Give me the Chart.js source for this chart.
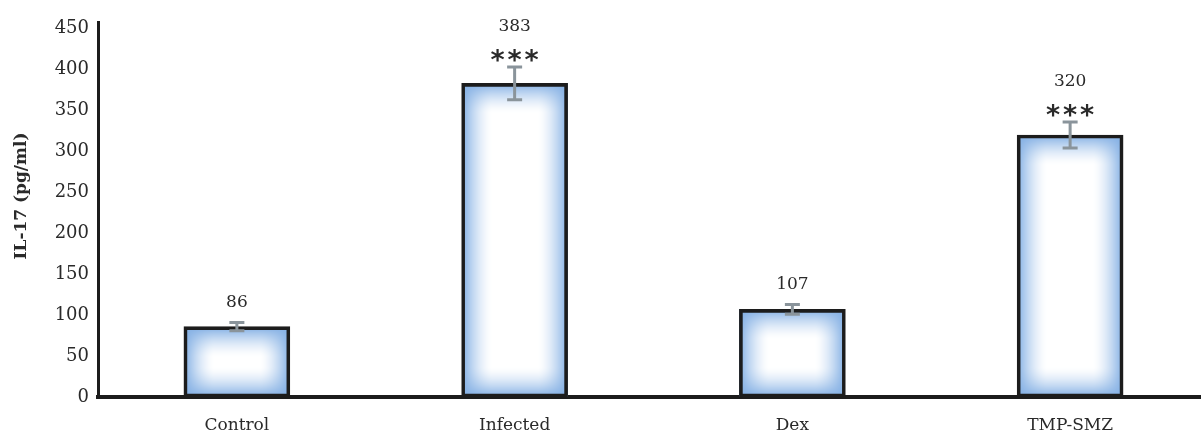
<!DOCTYPE html>
<html>
<head>
<meta charset="utf-8">
<script src="https://cdn.jsdelivr.net/npm/chart.js@4.4.1/dist/chart.umd.min.js"></script>
<style>
  html, body { margin: 0; padding: 0; overflow: hidden; background: #ffffff; }
  #wrap { position: relative; width: 1210px; height: 435px; }
</style>
</head>
<body>
<div id="wrap"><canvas id="c" width="1210" height="435"></canvas></div>
<script>
// IL-17 levels per treatment group
const categories    = ['Control', 'Infected', 'Dex', 'TMP-SMZ'];
const meanValues    = [86, 383, 107, 320];
const errorValues   = [5, 20, 6, 16];
const significance  = ['', '***', '', '***'];
const yTickValues   = [0, 50, 100, 150, 200, 250, 300, 350, 400, 450];
const yAxisTitle    = 'IL-17 (pg/ml)';

const SERIF = '"DejaVu Serif", "Liberation Serif", serif';
const TEXT  = '#2a2a2a';
const AXIS  = '#1c1c1c';
const ERR   = '#8a949b';

// Soft rectangular shading: light blue at the edges, white in the middle
function shadeBar(w, h) {
  const cv = document.createElement('canvas');
  cv.width = Math.max(1, w); cv.height = Math.max(1, h);
  const g = cv.getContext('2d');
  const img = g.createImageData(cv.width, cv.height);
  const F = 30;
  const edge = [132, 176, 228];
  for (let y = 0; y < cv.height; y++) {
    for (let x = 0; x < cv.width; x++) {
      const ds = [x, cv.width - 1 - x, y, cv.height - 1 - y];
      let keep = 1;
      for (const d of ds) {
        const e = Math.pow(Math.max(0, 1 - d / F), 1.6);
        keep *= (1 - e);
      }
      const k = 1 - keep;
      const i = (y * cv.width + x) * 4;
      img.data[i]     = Math.round(255 + (edge[0] - 255) * k);
      img.data[i + 1] = Math.round(255 + (edge[1] - 255) * k);
      img.data[i + 2] = Math.round(255 + (edge[2] - 255) * k);
      img.data[i + 3] = 255;
    }
  }
  g.putImageData(img, 0, 0);
  return cv;
}

const barShading = {
  id: 'barShading',
  beforeDatasetsDraw(chart) {
    const ctx = chart.ctx;
    chart.getDatasetMeta(0).data.forEach(bar => {
      const p = bar.getProps(['x', 'y', 'base', 'width'], true);
      const left = Math.round(p.x - p.width / 2);
      const top = Math.round(Math.min(p.y, p.base));
      const w = Math.round(p.width);
      const h = Math.round(Math.abs(p.base - p.y));
      ctx.drawImage(shadeBar(w, h), left, top);
    });
  }
};

const errorBars = {
  id: 'errorBars',
  afterDatasetsDraw(chart) {
    const ctx = chart.ctx;
    const ys = chart.scales.y;
    ctx.save();
    ctx.strokeStyle = ERR;
    ctx.lineWidth = 3;
    chart.getDatasetMeta(0).data.forEach((bar, i) => {
      const x = bar.x;
      const hi = ys.getPixelForValue(meanValues[i] + errorValues[i]);
      const lo = ys.getPixelForValue(meanValues[i] - errorValues[i]);
      ctx.beginPath();
      ctx.moveTo(x, hi); ctx.lineTo(x, lo);
      ctx.moveTo(x - 7.5, hi); ctx.lineTo(x + 7.5, hi);
      ctx.moveTo(x - 7.5, lo); ctx.lineTo(x + 7.5, lo);
      ctx.stroke();
    });
    ctx.restore();
  }
};

const valueLabels = {
  id: 'valueLabels',
  afterDatasetsDraw(chart) {
    const ctx = chart.ctx;
    const ys = chart.scales.y;
    ctx.save();
    ctx.fillStyle = TEXT;
    ctx.textAlign = 'center';
    chart.getDatasetMeta(0).data.forEach((bar, i) => {
      const x = bar.x;
      const top = ys.getPixelForValue(meanValues[i] + errorValues[i]);
      let numY = top - 20;
      if (significance[i]) {
        const starY = top - 14;
        ctx.font = 'bold 27px "DejaVu Sans", sans-serif';
        ctx.textBaseline = 'alphabetic';
        const n = significance[i].length;
        for (let k = 0; k < n; k++) {
          ctx.fillText('*', x + (k - (n - 1) / 2) * 17, starY + 16);
        }
        numY = top - 40;
      }
      ctx.font = '17px ' + SERIF;
      ctx.textBaseline = 'middle';
      ctx.fillText(String(meanValues[i]), x, numY);
    });
    ctx.restore();
  }
};

const axisTitle = {
  id: 'axisTitle',
  afterDraw(chart) {
    const ctx = chart.ctx;
    ctx.save();
    ctx.translate(22, 196);
    ctx.rotate(-Math.PI / 2);
    ctx.font = 'bold 17px ' + SERIF;
    ctx.fillStyle = TEXT;
    ctx.textAlign = 'center';
    ctx.textBaseline = 'middle';
    ctx.fillText(yAxisTitle, 0, 0);
    ctx.restore();
  }
};

new Chart(document.getElementById('c'), {
  type: 'bar',
  data: {
    labels: categories,
    datasets: [{
      data: meanValues,
      backgroundColor: 'rgba(0,0,0,0)',
      borderColor: AXIS,
      borderWidth: 3,
      borderSkipped: false,
      barThickness: 106
    }]
  },
  options: {
    responsive: false,
    animation: false,
    devicePixelRatio: 1,
    layout: { padding: { top: 22, right: 1, left: 0, bottom: 0 } },
    plugins: { legend: { display: false }, tooltip: { enabled: false } },
    scales: {
      x: {
        grid: { display: false, drawTicks: false },
        border: { display: true, color: AXIS, width: 4 },
        ticks: { color: TEXT, font: { family: SERIF, size: 17 }, padding: 18 },
        afterFit(s) { s.height = 38; }
      },
      y: {
        min: 0,
        max: 458,
        grid: { display: false, drawTicks: false },
        border: { display: true, color: AXIS, width: 3 },
        ticks: { color: TEXT, font: { family: SERIF, size: 18 }, padding: 9, includeBounds: false },
        afterBuildTicks(s) { s.ticks = yTickValues.map(v => ({ value: v })); },
        afterFit(s) { s.width = 98; }
      }
    }
  },
  plugins: [barShading, errorBars, valueLabels, axisTitle]
});
</script>
</body>
</html>
